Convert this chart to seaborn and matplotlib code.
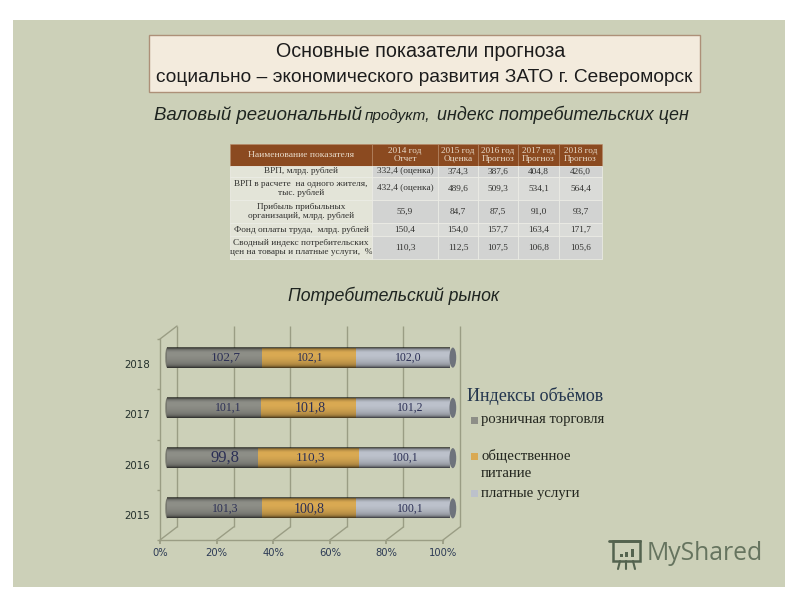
import numpy as np
import pandas as pd
import matplotlib
matplotlib.use("Agg")
import matplotlib.pyplot as plt
from matplotlib.patches import Rectangle, Ellipse
from matplotlib.transforms import ScaledTranslation
import seaborn as sns

years = ["2018", "2017", "2016", "2015"]
retail = [102.7, 101.1, 99.8, 101.3]
catering = [102.1, 101.8, 110.3, 100.8]
services = [102.0, 101.2, 100.1, 100.1]
retail_labels = ["102,7", "101,1", "99,8", "101,3"]
catering_labels = ["102,1", "101,8", "110,3", "100,8"]
services_labels = ["102,0", "101,2", "100,1", "100,1"]
series_names = ["розничная торговля", "общественное\nпитание", "платные услуги"]
legend_title = "Индексы объёмов"

table_header = ["Наименование показателя", "2014 год\nОтчет", "2015 год\nОценка",
                "2016 год\nПрогноз", "2017 год\nПрогноз", "2018 год\nПрогноз"]
table_rows = [
    ["ВРП, млрд. рублей", "332,4 (оценка)", "374,3", "387,6", "404,8", "426,0"],
    ["ВРП в расчете  на одного жителя,\nтыс. рублей", "432,4 (оценка)", "489,6", "509,3", "534,1", "564,4"],
    ["Прибыль прибыльных\nорганизаций, млрд. рублей", "55,9", "84,7", "87,5", "91,0", "93,7"],
    ["Фонд оплаты труда,  млрд. рублей", "150,4", "154,0", "157,7", "163,4", "171,7"],
    ["Сводный индекс потребительских\nцен на товары и платные услуги,  %", "110,3", "112,5", "107,5", "106,8", "105,6"],
]

sns.set_theme(style="white")
SANS = ["Liberation Sans", "DejaVu Sans"]
SERIF = ["Liberation Serif", "DejaVu Serif"]
plt.rcParams["font.family"] = SANS

W, H = 800, 600
fig = plt.figure(figsize=(8, 6), dpi=100, facecolor="white")

# page layer in pixel coordinates
bg = fig.add_axes([0, 0, 1, 1], zorder=0)
bg.set_xlim(0, W); bg.set_ylim(H, 0); bg.axis("off")
bg.add_patch(Rectangle((13, 20), 772, 567, fc="#CCD0B8", ec="none"))
bg.add_patch(Rectangle((149, 35), 551, 57, fc="#F3EBDD", ec="#AD9078", lw=1))
head = dict(ha="center", va="center", color="#1c1c1c")
bg.text(421, 51.5, "Основные показатели прогноза", fontsize=14.2, **head)
bg.text(424, 77, "социально – экономического развития ЗАТО г. Североморск", fontsize=13.8, **head)
sub = dict(va="center", style="italic", color="#1e2420")
bg.text(154, 115, "Валовый региональный", ha="left", fontsize=13.4, **sub)
bg.text(365, 116, "продукт,", ha="left", fontsize=11, **sub)
bg.text(437, 115, "индекс потребительских цен", ha="left", fontsize=12.9, **sub)
bg.text(394, 296, "Потребительский рынок", ha="center", va="center", fontsize=12.7,
        style="italic", color="#1e2420")

# table
col_px = np.diff([230, 372, 438, 478, 518, 559, 602])
row_px = np.diff([144, 166, 177, 200, 223, 236, 259])
tbl = bg.table(cellText=[table_header] + table_rows, cellLoc="center",
               bbox=[230 / W, 1 - 259 / H, 372 / W, 115 / H])
tbl.set_zorder(3)
tbl.auto_set_font_size(False)
for (r, c), cell in tbl.get_celld().items():
    cell.set_width(col_px[c]); cell.set_height(row_px[r])
    cell.PAD = 0.01
    t = cell.get_text()
    t.set_fontfamily(SERIF); t.set_fontsize(6.7)
    t.set_linespacing(1.05)
    if r == 0:
        cell.set_facecolor("#8B4A20"); cell.set_edgecolor("#B98A68"); cell.set_linewidth(0.4)
        t.set_color("#E9DCCB"); t.set_fontsize(6.6 if c else 6.8)
    else:
        cell.set_facecolor("#E3E4D8" if c == 0 else ("#D2D3D2" if r % 2 else "#DADBD8"))
        cell.set_edgecolor("#EEEEE8"); cell.set_linewidth(0.5)
        t.set_color("#30302e")

# chart
ax = fig.add_axes([160 / W, 60 / H, 283 / W, 201 / H], zorder=2)
ax.patch.set_visible(False)

df = pd.DataFrame({"year": years, "retail": retail, "catering": catering, "services": services})
total = df[["retail", "catering", "services"]].sum(axis=1)
df["c1"] = df["retail"] / total * 100
df["c2"] = (df["retail"] + df["catering"]) / total * 100
df["c3"] = 100.0

colors = ["#8D8E87", "#D9A952", "#BCC1CB"]
for col, colr in zip(["c3", "c2", "c1"], colors[::-1]):
    sns.barplot(data=df, y="year", x=col, order=years, orient="h", color=colr, saturation=1,
                width=0.4, ax=ax, zorder=3, linewidth=0)

px = fig.dpi_scale_trans
bar_shift = ScaledTranslation(7 / 100, 6.5 / 100, px)
back_shift = ScaledTranslation(17 / 100, 13 / 100, px)
bar_tr = ax.transData + bar_shift
back_tr = ax.transData + back_shift

for p in ax.patches:
    p.set_transform(bar_tr); p.set_clip_on(False)

# cylinder shading and end cap
profile = [0.6, 0.42, 0.2, 0.1, 0.03, 0, 0, 0, 0, 0.02, 0.03, 0.05, 0.07, 0.09, 0.12, 0.15, 0.2, 0.28, 0.42, 0.62]
shade = np.zeros((len(profile), 1, 4))
shade[:, 0, 3] = profile
for i in range(len(years)):
    im = ax.imshow(shade, extent=(0, 100, i + 0.2, i - 0.2), aspect="auto", interpolation="bilinear",
                   zorder=4, origin="upper")
    im.set_transform(bar_tr); im.set_clip_on(False)
    ax.add_patch(Ellipse((101, i), 2.4, 0.4, fc="#6E737C", ec="none", zorder=5, transform=bar_tr, clip_on=False))
    ax.add_patch(Ellipse((0, i), 1.2, 0.4, fc="#77786f", ec="none", zorder=2.9, transform=bar_tr, clip_on=False))

ax.set_xlim(0, 100); ax.set_ylim(3.5, -0.5)

# 3D frame: back wall and floor depth lines
frame = "#9A9D84"
xt = np.arange(0, 101, 20)
ax.vlines(xt, 3.5, -0.5, color=frame, lw=1, transform=back_tr, zorder=1, clip_on=False)
for x in xt:
    ax.annotate("", xy=(x, 3.5), xytext=(17 * .72, 13 * .72), textcoords="offset points",
                arrowprops=dict(arrowstyle="-", color=frame, lw=1, shrinkA=0, shrinkB=0), zorder=1)
ax.annotate("", xy=(0, -0.5), xytext=(17 * .72, 13 * .72), textcoords="offset points",
            arrowprops=dict(arrowstyle="-", color=frame, lw=1, shrinkA=0, shrinkB=0), zorder=1)

sns.despine(ax=ax, top=True, right=True)
for s in ["left", "bottom"]:
    ax.spines[s].set_color(frame); ax.spines[s].set_linewidth(1)
ax.set_xlabel(""); ax.set_ylabel("")
ax.set_xticks(xt)
ax.set_xticklabels([f"{v}%" for v in xt], fontsize=7.2, color="#2C3A55", fontfamily=["DejaVu Sans"])
ax.set_yticks(range(len(years)))
ax.set_yticklabels(years, fontsize=7.4, color="#23302c", fontfamily=["DejaVu Sans"])
ax.set_yticks(np.arange(-0.5, 4), minor=True)
ax.tick_params(axis="y", which="major", length=0, pad=7.5)
ax.tick_params(axis="y", which="minor", length=2, color=frame, left=True)
ax.tick_params(axis="x", length=3, color=frame, pad=3, bottom=True)

# value labels (size and nudge as they appear in the picture)
ret_dx = [11, 14, 12, 11]; cat_dx = [1, 2, 2, 0]; srv_dx = [5, 7, 1, 7]
ret_fs = [9.5, 8.5, 12, 8.5]; cat_fs = [8.5, 10, 9.5, 10]; srv_fs = [8.5, 8.5, 8.5, 8.5]
lab = dict(ha="center", va="center", color="#2B2F55", textcoords="offset points", zorder=6,
           annotation_clip=False, fontfamily=SERIF)
for i in range(len(years)):
    mids = [df.c1[i] / 2, (df.c1[i] + df.c2[i]) / 2, (df.c2[i] + 100) / 2]
    for m, s, d, f in zip(mids, [retail_labels[i], catering_labels[i], services_labels[i]],
                          [ret_dx[i], cat_dx[i], srv_dx[i]], [ret_fs[i], cat_fs[i], srv_fs[i]]):
        ax.annotate(s, xy=(m, i), xytext=((7 + d) * .72, 6.5 * .72), fontsize=f, **lab)

# legend
bg.text(467, 396, legend_title, ha="left", va="center", fontsize=13, color="#24364E", fontfamily=SERIF)
leg_y = [420, 456, 493]
for name, colr, y in zip(series_names, colors, leg_y):
    bg.add_patch(Rectangle((470.5, y - 3.5), 7, 7, fc=colr, ec="none"))
    two = "\n" in name
    bg.text(481, y - 7 if two else y, name, ha="left", va="top" if two else "center", fontsize=10.6,
            color="#23261f", fontfamily=SERIF, linespacing=1.4)

# watermark
wm = "#54634F"
bg.text(647, 553, "MyShared", ha="left", va="center", fontsize=17.8, color="#66745F",
        fontfamily=["Open Sans", "DejaVu Sans"])
bg.add_patch(Rectangle((613, 541), 27, 20, fc="none", ec=wm, lw=1.8))
bg.plot([609, 640], [541, 541], color=wm, lw=2)
for x0, h in zip([620, 625, 631], [3, 5, 8]):
    bg.add_patch(Rectangle((x0, 557 - h), 3, h, fc=wm, ec="none"))
for a, b in [(620, 618), (626, 626), (633, 635)]:
    bg.plot([a, b], [561, 569], color=wm, lw=1.5)

fig.savefig("out.png", dpi=100)
